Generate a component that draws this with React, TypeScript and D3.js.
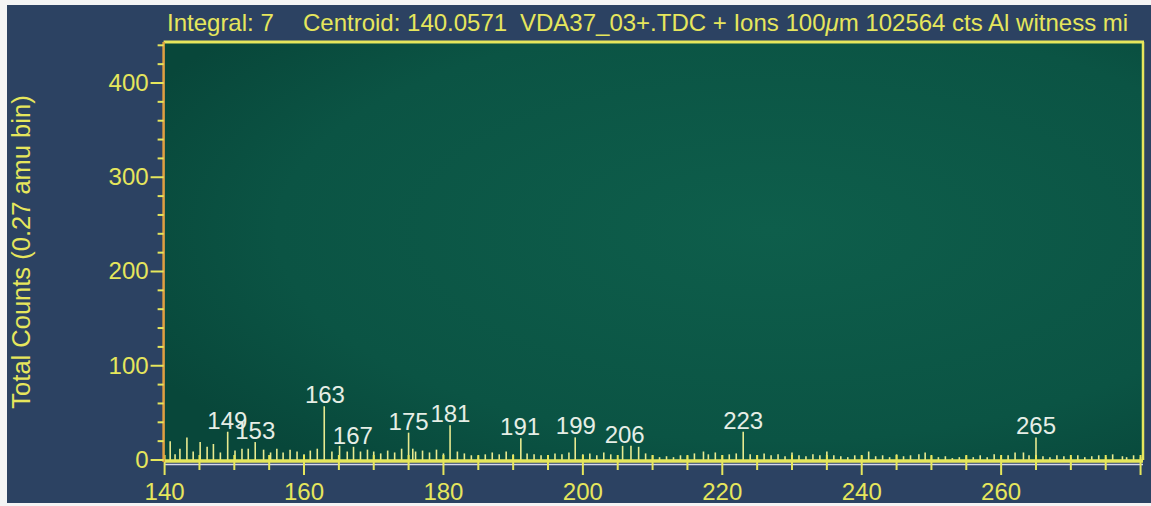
import React from "react";
import * as d3 from "d3";

// ---- data ----
const spikeMass = [
  140.8, 141.5, 142.2, 143.2, 144.1, 145.1, 146.1, 147.0, 148.0, 149.05, 150.1, 151.1, 152.0, 153.0, 154.2, 155.2, 156.1, 157.0, 158.0, 159.0,
  160.0, 160.9, 161.9, 162.9, 164.0, 165.1, 166.2, 167.1, 168.1, 169.1, 170.0, 171.0, 172.0, 173.0, 174.0, 175.0, 175.6, 176.0, 177.0, 178.0,
  179.0, 180.0, 180.95, 182.0, 183.0, 184.0, 185.0, 186.0, 187.0, 188.0, 189.0, 190.0, 191.1, 192.0, 193.0, 194.0, 195.0, 196.0, 197.0, 198.0,
  198.9, 200.0, 201.0, 202.0, 203.0, 204.0, 205.7, 206.9, 208.0, 209.0, 210.0, 211.0, 212.0, 213.0, 214.0, 215.0, 216.0, 217.3, 218.0, 219.0,
  220.0, 221.0, 222.0, 223.0, 224.0, 225.0, 226.0, 227.0, 228.0, 229.0, 230.0, 231.0, 232.0, 233.0, 234.0, 235.0, 236.0, 237.0, 238.0, 239.0,
  240.0, 241.0, 242.0, 243.0, 244.0, 245.0, 246.0, 247.0, 248.2, 249.1, 250.0, 251.0, 252.0, 253.0, 254.0, 255.0, 256.0, 257.0, 258.0, 259.0,
  260.0, 261.0, 262.0, 263.2, 264.0, 265.0, 266.0, 267.0, 268.0, 269.0, 270.0, 271.0, 272.0, 273.0, 274.0, 275.0, 276.0, 277.4, 278.0, 279.0, 280.0,
];
const spikeCounts = [
  20, 6, 12, 24, 9, 19, 14, 17, 8, 30, 10, 12, 12, 19, 11, 8, 12, 8, 11, 9,
  6, 10, 12, 57, 9, 15, 9, 14, 9, 11, 9, 7, 10, 8, 12, 29, 12, 9, 10, 8,
  11, 7, 37, 9, 7, 5, 4, 6, 8, 6, 9, 6, 23, 7, 6, 5, 4, 7, 6, 8,
  24, 6, 7, 5, 8, 6, 15, 15, 14, 7, 5, 3, 4, 3, 5, 4, 7, 9, 6, 8,
  5, 6, 7, 30, 6, 5, 7, 5, 6, 4, 8, 5, 4, 6, 5, 9, 5, 4, 3, 5,
  4, 9, 4, 5, 3, 6, 4, 5, 6, 8, 4, 3, 4, 2, 3, 4, 3, 5, 3, 6,
  4, 5, 8, 8, 5, 24, 4, 3, 5, 4, 3, 5, 3, 4, 5, 3, 6, 4, 3, 5, 3,
];
const peakLabels = ["149", "153", "163", "167", "175", "181", "191", "199", "206", "223", "265"];
const xTickValues = [140, 160, 180, 200, 220, 240, 260];
const yTickValues = [0, 100, 200, 300, 400];
const xDomain = [140, 280.35];
const yDomain = [0, 443.5];
const yLabel = "Total Counts (0.27 amu bin)";
const title1 = "Integral: 7";
const title2 = "Centroid: 140.0571";
const title3a = "VDA37_03+.TDC + Ions 100";
const title3b = "\u03bc";
const title3c = "m 102564 cts Al witness mi";

const W = 1151;
const H = 506;
const L = 164.6, R = 1143, T = 42, B = 460;
const FONT = "'Liberation Sans', Arial, Helvetica, sans-serif";
const YEL = "#e6e65c";

export default function App() {
  const x = d3.scaleLinear().domain(xDomain).range([L, R]);
  const y = d3.scaleLinear().domain(yDomain).range([B, T]);
  const minorX = d3.range(140, 281, 5);
  const minorY = d3.range(0, 441, 20);

  const peakY = (m: number) => {
    let best = 0;
    spikeMass.forEach((s, i) => {
      if (Math.abs(s - m) <= 0.6 && spikeCounts[i] > best) best = spikeCounts[i];
    });
    return best;
  };

  return (
    <svg width={W} height={H} style={{ position: "absolute", left: 0, top: 0, display: "block" }} fontFamily={FONT}>
      <defs>
        <radialGradient id="plotg" cx="62%" cy="45%" r="72%">
          <stop offset="0%" stopColor="#0e5e4b" />
          <stop offset="70%" stopColor="#0b5444" />
          <stop offset="100%" stopColor="#08473a" />
        </radialGradient>
        <clipPath id="titleclip">
          <rect x={0} y={0} width={1146} height={40} />
        </clipPath>
      </defs>
      <rect x={0} y={0} width={W} height={H} fill="#f4f4f4" />
      <rect x={7} y={5} width={W - 7} height={498} fill="#2c4262" />
      <rect x={L} y={T} width={R - L} height={B - T} fill="url(#plotg)" />

      {/* title */}
      <g clipPath="url(#titleclip)" fill={YEL} fontSize={24}>
        <text x={167} y={31}>{title1}</text>
        <text x={303} y={31}>{title2}</text>
        <text x={520} y={31}>
          {title3a}
          <tspan fontStyle="italic">{title3b}</tspan>
          {title3c}
        </text>
      </g>

      {/* frame */}
      <line x1={L - 1} x2={R + 1} y1={T} y2={T} stroke={YEL} strokeWidth={3} />
      <line x1={R} x2={R} y1={T} y2={B} stroke={YEL} strokeWidth={2.5} />

      {/* spectrum */}
      {spikeMass.map((m, i) => (
        <line key={i} x1={x(m)} x2={x(m)} y1={B} y2={y(spikeCounts[i])} stroke="#e8ea90" strokeWidth={1.6} />
      ))}

      {/* peak labels */}
      {peakLabels.map((p) => (
        <text key={p} x={x(+p)} y={y(peakY(+p)) - 3} textAnchor="middle" fontSize={24} fill="#e6eee6">
          {p}
        </text>
      ))}

      {/* x axis */}
      <line x1={L} x2={R} y1={B + 1} y2={B + 1} stroke={YEL} strokeWidth={3.5} />
      <line x1={L} x2={R} y1={B + 4.5} y2={B + 4.5} stroke="#d8d8ec" strokeWidth={1.5} />
      {minorX.map((v) => (
        <line key={v} x1={x(v)} x2={x(v)} y1={B - 5} y2={v % 20 === 0 ? B + 15 : B + 10} stroke={YEL} strokeWidth={2} />
      ))}
      {xTickValues.map((v) => (
        <text key={v} x={x(v)} y={500} textAnchor="middle" fontSize={24} fill={YEL}>
          {v}
        </text>
      ))}

      {/* y axis */}
      <line x1={L - 1} x2={L - 1} y1={T} y2={B + 2} stroke="#e0a040" strokeWidth={2.5} />
      {minorY.map((v) => (
        <line key={v} x1={v % 100 === 0 ? L - 14 : L - 7} x2={L - 1} y1={y(v)} y2={y(v)} stroke={YEL} strokeWidth={2} />
      ))}
      {yTickValues.map((v) => (
        <text key={v} x={L - 16} y={y(v) + 8} textAnchor="end" fontSize={24} fill={YEL}>
          {v}
        </text>
      ))}
      <text transform={`translate(30,252) rotate(-90)`} textAnchor="middle" fontSize={25.5} fill={YEL}>
        {yLabel}
      </text>
    </svg>
  );
}
